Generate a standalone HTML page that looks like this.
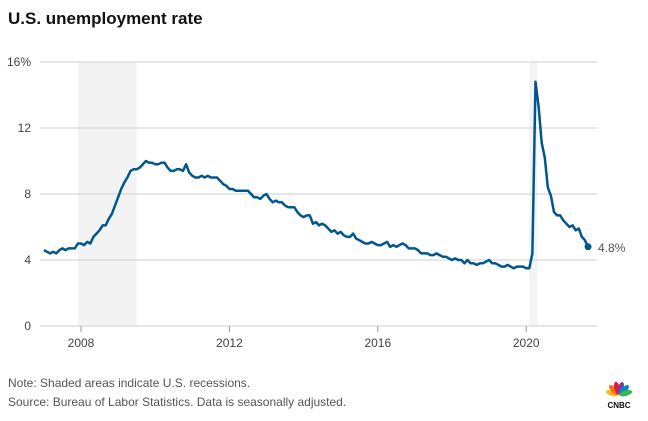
<!DOCTYPE html>
<html><head><meta charset="utf-8"><style>
body{margin:0;background:#fff;font-family:"Liberation Sans",sans-serif;}
#wrap{position:relative;width:648px;height:421px;overflow:hidden;}
</style></head><body>
<div id="wrap">
<svg id="chart" width="648" height="421"></svg>
</div>
<script>
const years=[2008,2012,2016,2020];
const yTicks=[0,4,8,12,16];
const yTickLabels=["0","4","8","12","16%"];
const recessions=[[2007.917,2009.5],[2020.083,2020.3]];
const startYear=2007;
const rates=[
4.6,4.5,4.4,4.5,4.4,4.6,4.7,4.6,4.7,4.7,4.7,5.0,
5.0,4.9,5.1,5.0,5.4,5.6,5.8,6.1,6.1,6.5,6.8,7.3,
7.8,8.3,8.7,9.0,9.4,9.5,9.5,9.6,9.8,10.0,9.9,9.9,
9.8,9.8,9.9,9.9,9.6,9.4,9.4,9.5,9.5,9.4,9.8,9.3,
9.1,9.0,9.0,9.1,9.0,9.1,9.0,9.0,9.0,8.8,8.6,8.5,
8.3,8.3,8.2,8.2,8.2,8.2,8.2,8.0,7.8,7.8,7.7,7.9,
8.0,7.7,7.5,7.6,7.5,7.5,7.3,7.2,7.2,7.2,6.9,6.7,
6.6,6.7,6.7,6.2,6.3,6.1,6.2,6.1,5.9,5.7,5.8,5.6,
5.7,5.5,5.4,5.4,5.6,5.3,5.2,5.1,5.0,5.0,5.1,5.0,
4.9,4.9,5.0,5.1,4.8,4.9,4.8,4.9,5.0,4.9,4.7,4.7,
4.7,4.6,4.4,4.4,4.4,4.3,4.3,4.4,4.3,4.2,4.2,4.1,
4.0,4.1,4.0,4.0,3.8,4.0,3.8,3.8,3.7,3.8,3.8,3.9,
4.0,3.8,3.8,3.7,3.6,3.6,3.7,3.6,3.5,3.6,3.6,3.6,
3.5,3.5,4.4,14.8,13.3,11.1,10.2,8.4,7.9,6.9,6.7,6.7,
6.4,6.2,6.0,6.1,5.8,5.9,5.4,5.2,4.8];
const NS="http://www.w3.org/2000/svg";
const svg=document.getElementById('chart');
const xS=t=>81+(t-2008)*37.1;
const yS=v=>326-v*16.5;
function mk(tag,attrs,parent){const e=document.createElementNS(NS,tag);for(const k in attrs)e.setAttribute(k,attrs[k]);(parent||svg).appendChild(e);return e;}
let t=mk('text',{x:8,y:24,'font-size':17,'font-weight':'bold',fill:'#111'});t.textContent='U.S. unemployment rate';


recessions.forEach(r=>{const e=mk('rect',{x:xS(r[0]),y:62,width:xS(r[1])-xS(r[0]),height:264,fill:'#f3f3f3'});

});
yTicks.forEach((v,i)=>{const l=mk('line',{x1:40,x2:597,y1:yS(v),y2:yS(v),stroke:'#cfcfcf','stroke-width':1});


const tx=mk('text',{x:31,y:yS(v)+4,'font-size':12,fill:'#444','text-anchor':'end'});tx.textContent=yTickLabels[i];

});
years.forEach(y=>{const l=mk('line',{x1:xS(y),x2:xS(y),y1:326,y2:332,stroke:'#999'});


const tx=mk('text',{x:xS(y),y:347,'font-size':12,fill:'#444','text-anchor':'middle'});tx.textContent=y;

});
const pts=rates.map((v,i)=>xS(startYear+i/12).toFixed(1)+','+yS(v).toFixed(1)).join(' ');
const line=mk('polyline',{points:pts,fill:'none',stroke:'#00578e','stroke-width':2.5,'stroke-linejoin':'round'});


const li=rates.length-1,lx=xS(startYear+li/12),ly=yS(rates[li]);
const dot=mk('circle',{cx:lx,cy:ly,r:3.5,fill:'#00578e'});


const lab=mk('text',{x:lx+10,y:ly+5,'font-size':12,fill:'#555'});lab.textContent=rates[li]+'%';


const n1=mk('text',{x:8,y:387,'font-size':12,fill:'#555'});n1.textContent='Note: Shaded areas indicate U.S. recessions.';


const n2=mk('text',{x:8,y:406,'font-size':12,fill:'#555'});n2.textContent='Source: Bureau of Labor Statistics. Data is seasonally adjusted.';


const g=mk('g',{});


const cols=['#f7b71d','#ef6f22','#e3173e','#7a3f98','#0089cf','#39b54a'];
cols.forEach((c,i)=>{const a=-160+i*28;mk('ellipse',{cx:0,cy:-6,rx:2.6,ry:6,fill:c,transform:`translate(619,394) rotate(${a+90-90+ (i-2.5)*0}) `},g);});
g.innerHTML='';
cols.forEach((c,i)=>{const ang=-75+i*30;mk('ellipse',{cx:0,cy:-7,rx:2.8,ry:6.5,fill:c,transform:`translate(619,395) rotate(${ang})`},g);});
const cn=mk('text',{x:619,y:408,'font-size':8,'font-weight':'bold',fill:'#111','text-anchor':'middle'},g);cn.textContent='CNBC';
</script>
</body></html>
